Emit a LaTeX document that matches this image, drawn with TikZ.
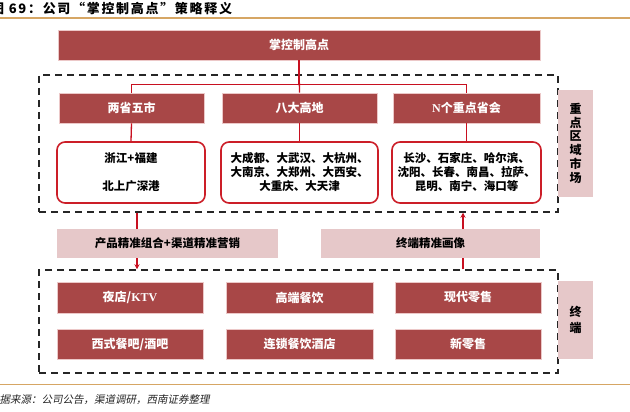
\documentclass[tikz,border=0pt]{standalone}
\usepackage{fontspec}
\setmainfont{Noto Sans CJK SC}
\newfontfamily\lat{Liberation Serif}
\newfontfamily\slantcjk[FakeSlant=0.2]{Noto Sans CJK SC}
\usetikzlibrary{arrows.meta}
\definecolor{darkred}{RGB}{168,71,71}
\definecolor{pinkbg}{RGB}{230,200,201}
\definecolor{lineRed}{RGB}{200,16,32}
\definecolor{roundRed}{RGB}{204,30,40}
\definecolor{gold}{RGB}{214,166,100}
\definecolor{lightborder}{RGB}{236,200,200}
\tikzset{
  darkbox/.style={draw=lightborder, line width=0.8pt, fill=darkred, text=white, inner sep=0pt,
    font=\fontsize{12}{14}\selectfont\bfseries},
  pinkbox/.style={fill=pinkbg, text=black, inner sep=0pt,
    font=\fontsize{11.5}{14}\selectfont\bfseries},
  sidebox/.style={fill=pinkbg, text=black, inner sep=0pt,
    font=\fontsize{12}{14}\selectfont\bfseries},
  roundbox/.style={draw=roundRed, line width=1.6pt, rounded corners=8pt, fill=white, inner sep=0pt,
    align=center, font=\fontsize{11.5}{14}\selectfont\bfseries},
  dashbox/.style={draw=black!85, line width=1.5pt, dash pattern=on 7pt off 5pt, inner sep=0pt},
  redline/.style={draw=lineRed, line width=1.3pt},
  redarrow/.style={draw=lineRed, line width=1.1pt, -{Stealth[length=5pt,width=5pt]}},
  goldline/.style={draw=gold, line width=1.3pt}
}
\begin{document}
\begin{tikzpicture}[x=1pt,y=-1pt]
\useasboundingbox (0,0) rectangle (630,412);
\fill[white] (0,0) rectangle (630,412);

% title and rules
\node[anchor=west, inner sep=0pt, font=\fontsize{13}{15}\selectfont\bfseries] (title) at (-9,9) {\addfontfeatures{LetterSpace=13}图 69：公司“掌控制高点”策略释义};
\coordinate (tl1) at (0,18);
\coordinate (tl2) at (630,18);
\draw[goldline] (tl1) -- (tl2);
\coordinate (bl1) at (0,384.5);
\coordinate (bl2) at (630,384.5);
\draw[goldline] (bl1) -- (bl2);
\node[anchor=west, inner sep=0pt, text=black!85, font=\fontsize{10.5}{12}\selectfont\slantcjk] (src) at (-11,400) {数据来源：公司公告，渠道调研，西南证券整理};

% dashed regions
\node[dashbox, minimum width=519pt, minimum height=137pt] (d1) at (298.5,143.5) {};
\node[dashbox, minimum width=519pt, minimum height=103pt] (d2) at (298.5,321.5) {};

% side labels
\node[sidebox, minimum width=35pt, minimum height=107pt] (s1) at (575.5,143.5) {\shortstack{重\\[-0.4pt]点\\[-0.4pt]区\\[-0.4pt]域\\[-0.4pt]市\\[-0.4pt]场}};
\node[sidebox, minimum width=35pt, minimum height=78pt] (s2) at (575.5,320) {\shortstack{终\\[1pt]端}};

% top box
\node[darkbox, minimum width=482pt, minimum height=30pt] (top) at (299,45) {掌控制高点};

% headers
\node[darkbox, minimum width=145pt, minimum height=30pt] (h1) at (131.5,108) {两省五市};
\node[darkbox, minimum width=155pt, minimum height=30pt] (h2) at (299.5,108) {八大高地};
\node[darkbox, minimum width=147pt, minimum height=30pt] (h3) at (466.5,108) {{\lat N}个重点省会};

% connectors top -> headers
\draw[redline] (top.south) -- ++(0,24) -| (h1.north);
\draw[redline] (top.south) -- ++(0,24) -| (h3.north);
\draw[redline] (top.south) -- (h2.north);

% round boxes
\node[roundbox, minimum width=148pt, minimum height=61pt] (r1) at (131,172.5) {浙江+福建\\[14pt]北上广深港};
\node[roundbox, minimum width=157pt, minimum height=61pt] (r2) at (299.5,172.5) {大成都、大武汉、大杭州、\\大南京、大郑州、大西安、\\大重庆、大天津};
\node[roundbox, minimum width=149pt, minimum height=61pt] (r3) at (466.5,172.5) {长沙、石家庄、哈尔滨、\\沈阳、长春、南昌、拉萨、\\昆明、南宁、海口等};

\draw[redline] (h1.south) -- (r1.north);
\draw[redline] (h2.south) -- (r2.north);
\draw[redline] (h3.south) -- (r3.north);

% arrows between regions
\coordinate (ax1) at (137,0);
\coordinate (ax2) at (463,0);
\draw[redarrow] (d1.south -| ax1) -- (d2.north -| ax1);
\draw[redarrow] (d2.north -| ax2) -- (d1.south -| ax2);

% middle pink boxes
\node[pinkbox, minimum width=221pt, minimum height=29pt] (p1) at (167.5,243) {产品精准组合+渠道精准营销};
\node[pinkbox, minimum width=219pt, minimum height=29pt] (p2) at (430.5,243) {终端精准画像};

% bottom boxes
\node[darkbox, minimum width=146pt, minimum height=31pt] (b11) at (130,297.5) {夜店/{\lat KTV}};
\node[darkbox, minimum width=147pt, minimum height=31pt] (b12) at (299.5,297.5) {高端餐饮};
\node[darkbox, minimum width=146pt, minimum height=31pt] (b13) at (468,297.5) {现代零售};
\node[darkbox, minimum width=146pt, minimum height=30pt] (b21) at (130,344) {西式餐吧/酒吧};
\node[darkbox, minimum width=147pt, minimum height=30pt] (b22) at (299.5,344) {连锁餐饮酒店};
\node[darkbox, minimum width=146pt, minimum height=30pt] (b23) at (468,344) {新零售};
\end{tikzpicture}
\end{document}
